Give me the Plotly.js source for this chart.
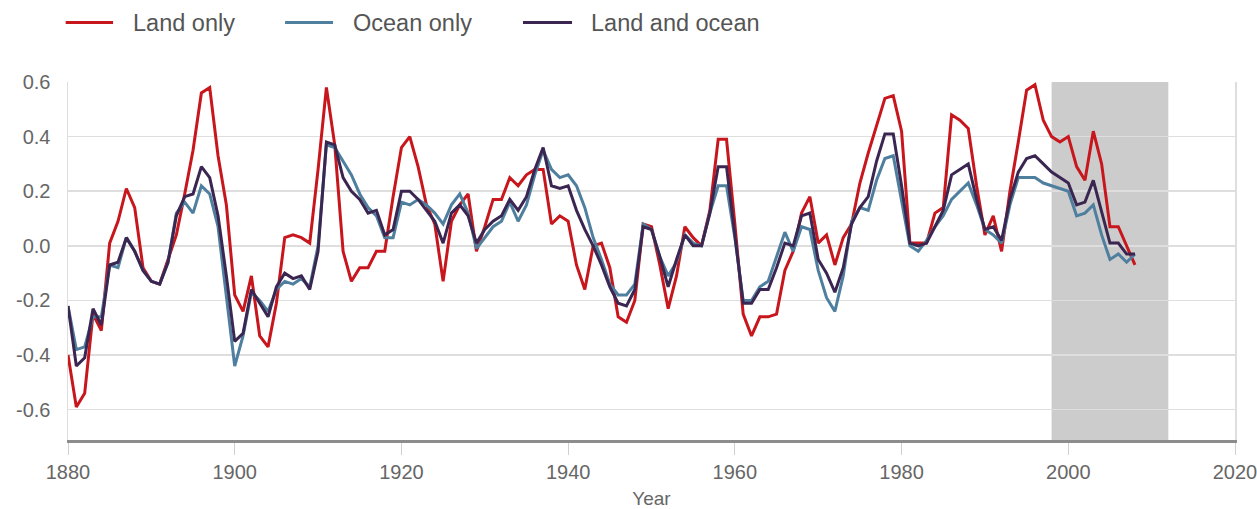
<!DOCTYPE html>
<html>
<head>
<meta charset="utf-8">
<script src="https://cdn.plot.ly/plotly-3.0.1.min.js"></script>
<style>
  html, body { margin: 0; padding: 0; background: #ffffff; }
  #chart { width: 1257px; height: 509px; }
</style>
</head>
<body>
<div id="chart"></div>
<script>
const years = [];
for (let y = 1880; y <= 2008; y++) years.push(y);

const landOnly = [
  -0.40, -0.59, -0.54, -0.25, -0.31, 0.01, 0.09, 0.21, 0.14, -0.08,
  -0.13, -0.14, -0.05, 0.04, 0.19, 0.35, 0.56, 0.58, 0.33, 0.15,
  -0.18, -0.24, -0.11, -0.33, -0.37, -0.21, 0.03, 0.04, 0.03, 0.01,
  0.28, 0.58, 0.37, -0.02, -0.13, -0.08, -0.08, -0.02, -0.02, 0.18,
  0.36, 0.40, 0.29, 0.15, 0.08, -0.13, 0.09, 0.15, 0.19, -0.02,
  0.07, 0.17, 0.17, 0.25, 0.22, 0.26, 0.28, 0.28, 0.08, 0.11,
  0.09, -0.07, -0.16, 0.00, 0.01, -0.08, -0.26, -0.28, -0.20, 0.08,
  0.07, -0.07, -0.23, -0.11, 0.07, 0.03, 0.00, 0.13, 0.39, 0.39,
  0.08, -0.25, -0.33, -0.26, -0.26, -0.25, -0.09, -0.02, 0.12, 0.18,
  0.01, 0.04, -0.07, 0.03, 0.08, 0.23, 0.34, 0.44, 0.54, 0.55,
  0.42, 0.01, 0.01, 0.01, 0.12, 0.14, 0.48, 0.46, 0.43, 0.22,
  0.04, 0.11, -0.02, 0.20, 0.38, 0.57, 0.59, 0.46, 0.40, 0.38,
  0.40, 0.29, 0.24, 0.42, 0.30, 0.07, 0.07, 0.00, -0.07
];

const oceanOnly = [
  -0.22, -0.38, -0.37, -0.26, -0.26, -0.07, -0.08, 0.03, -0.02, -0.09,
  -0.13, -0.14, -0.06, 0.12, 0.16, 0.12, 0.22, 0.19, 0.07, -0.19,
  -0.44, -0.33, -0.17, -0.20, -0.24, -0.16, -0.13, -0.14, -0.12, -0.15,
  0.00, 0.37, 0.36, 0.31, 0.26, 0.19, 0.14, 0.11, 0.03, 0.03,
  0.16, 0.15, 0.17, 0.15, 0.12, 0.08, 0.15, 0.19, 0.12, -0.01,
  0.03, 0.07, 0.09, 0.16, 0.09, 0.15, 0.26, 0.35, 0.28, 0.25,
  0.26, 0.22, 0.14, 0.03, -0.05, -0.14, -0.18, -0.18, -0.14, 0.08,
  0.06, -0.04, -0.11, -0.06, 0.04, 0.01, 0.00, 0.12, 0.22, 0.22,
  0.03, -0.20, -0.20, -0.15, -0.13, -0.04, 0.05, -0.02, 0.07, 0.06,
  -0.09, -0.19, -0.24, -0.11, 0.09, 0.14, 0.13, 0.24, 0.32, 0.33,
  0.17, 0.00, -0.02, 0.02, 0.07, 0.11, 0.17, 0.20, 0.23, 0.15,
  0.06, 0.04, 0.01, 0.15, 0.25, 0.25, 0.25, 0.23, 0.22, 0.21,
  0.20, 0.11, 0.12, 0.15, 0.04, -0.05, -0.03, -0.06, -0.03
];

const landAndOcean = [
  -0.22, -0.44, -0.41, -0.23, -0.29, -0.07, -0.06, 0.03, -0.02, -0.09,
  -0.13, -0.14, -0.06, 0.11, 0.18, 0.19, 0.29, 0.25, 0.11, -0.11,
  -0.35, -0.32, -0.16, -0.21, -0.26, -0.15, -0.10, -0.12, -0.11, -0.16,
  -0.02, 0.38, 0.37, 0.25, 0.20, 0.17, 0.12, 0.13, 0.04, 0.06,
  0.20, 0.20, 0.17, 0.13, 0.09, 0.01, 0.12, 0.15, 0.11, 0.01,
  0.06, 0.09, 0.11, 0.17, 0.13, 0.18, 0.28, 0.36, 0.22, 0.21,
  0.22, 0.13, 0.06, 0.00, -0.07, -0.15, -0.21, -0.22, -0.16, 0.07,
  0.06, -0.04, -0.15, -0.05, 0.04, 0.00, 0.00, 0.12, 0.29, 0.29,
  0.03, -0.21, -0.21, -0.16, -0.16, -0.08, 0.01, 0.00, 0.11, 0.12,
  -0.05, -0.10, -0.17, -0.08, 0.08, 0.14, 0.18, 0.31, 0.41, 0.41,
  0.22, 0.01, 0.00, 0.01, 0.07, 0.13, 0.26, 0.28, 0.30, 0.17,
  0.06, 0.07, 0.02, 0.17, 0.27, 0.32, 0.33, 0.30, 0.27, 0.25,
  0.23, 0.15, 0.16, 0.24, 0.12, 0.01, 0.01, -0.03, -0.03
];

const seriesNames = ['Land only', 'Ocean only', 'Land and ocean'];
const xTickVals = [1880, 1900, 1920, 1940, 1960, 1980, 2000, 2020];
const yTickVals = [-0.6, -0.4, -0.2, 0.0, 0.2, 0.4, 0.6];
const yTickText = ['-0.6', '-0.4', '-0.2', '0.0', '0.2', '0.4', '0.6'];
const shadeStart = 1998;
const shadeEnd = 2012;

const colors = ['#c8161d', '#4f7f9e', '#3b2652'];
const dataSets = [landOnly, oceanOnly, landAndOcean];

const traces = dataSets.map((vals, i) => ({
  type: 'scatter',
  mode: 'lines',
  name: seriesNames[i],
  x: years,
  y: vals,
  line: { color: colors[i], width: 3 },
  showlegend: false,
  hoverinfo: 'x+y'
}));

// Custom legend placement (paper coordinates)
const legendLineX = [[-0.002, 0.0386], [0.186, 0.2271], [0.3899, 0.4319]];
const legendTextX = [0.054, 0.2425, 0.4464];
const legendY = 1.166;

const shapes = [{
  type: 'rect',
  xref: 'x', yref: 'paper',
  x0: shadeStart, x1: shadeEnd,
  y0: 0, y1: 1,
  fillcolor: '#cccccc',
  line: { width: 0 },
  layer: 'below'
}];
const annotations = [];
seriesNames.forEach((name, i) => {
  shapes.push({
    type: 'line', xref: 'paper', yref: 'paper',
    x0: legendLineX[i][0], x1: legendLineX[i][1],
    y0: legendY, y1: legendY,
    line: { color: colors[i], width: 3 }
  });
  annotations.push({
    xref: 'paper', yref: 'paper',
    x: legendTextX[i], y: legendY,
    xanchor: 'left', yanchor: 'middle',
    text: name, showarrow: false,
    font: { size: 23.5, color: '#555555' }
  });
});

const layout = {
  width: 1257,
  height: 509,
  paper_bgcolor: '#ffffff',
  plot_bgcolor: '#ffffff',
  font: { family: 'Liberation Sans, Arial, sans-serif', color: '#666666', size: 20 },
  margin: { l: 68, r: 22, t: 82, b: 69 },
  showlegend: false,
  xaxis: {
    range: [1880, 2020],
    tickvals: xTickVals,
    ticktext: xTickVals.map(String),
    showgrid: false,
    zeroline: false,
    showline: true,
    linecolor: '#8c8c8c',
    linewidth: 3,
    ticks: 'outside',
    ticklen: 12,
    tickcolor: '#d0d0d0',
    tickwidth: 1,
    ticklabeloverflow: 'allow',
    tickfont: { size: 20, color: '#666666' },
    title: { text: 'Year', font: { size: 19, color: '#666666' }, standoff: 11 }
  },
  yaxis: {
    range: [-0.711, 0.6],
    tickvals: yTickVals,
    ticktext: yTickText,
    showgrid: true,
    gridcolor: '#dedede',
    gridwidth: 1.5,
    zeroline: false,
    showline: true,
    linecolor: '#dedede',
    linewidth: 1.5,
    mirror: true,
    ticks: '',
    ticklabelstandoff: 12,
    tickfont: { size: 20, color: '#666666' }
  },
  shapes: shapes,
  annotations: annotations
};

Plotly.newPlot('chart', traces, layout, { displayModeBar: false, staticPlot: true });
</script>
</body>
</html>
